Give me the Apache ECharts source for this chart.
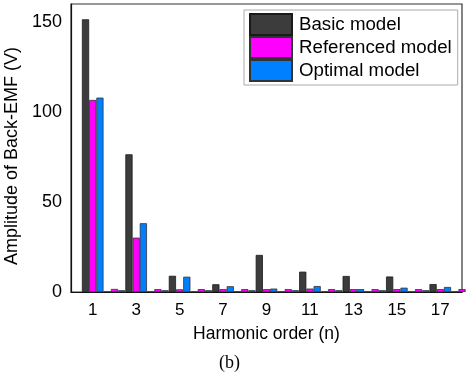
<!DOCTYPE html>
<html>
<head>
<meta charset="utf-8">
<script src="https://cdn.jsdelivr.net/npm/echarts@6/dist/echarts.min.js"></script>
<style>html,body{margin:0;padding:0;background:#fff}#c{width:466px;height:372px}</style>
</head>
<body>
<div id="c"></div>
<script>
// Harmonic orders (axis runs from 0 to 18; 0 has no bars)
const harmonics = ['0','1','2','3','4','5','6','7','8','9','10','11','12','13','14','15','16','17','18'];
const basicModel      = ['-', 151.5, 0, 76.5, 0, 9.0, 0, 4.3, 0, 20.6, 0, 11.3, 0, 8.9, 0, 8.6, 0, 4.4, 0];
const referencedModel = ['-', 106.7, 1.7, 30.2, 1.6, 1.5, 1.6, 1.6, 1.6, 1.6, 1.6, 1.9, 1.6, 1.6, 1.6, 1.6, 1.6, 1.6, 1.6];
const optimalModel    = ['-', 108.0, 1.0, 38.2, 1.0, 8.5, 1.0, 3.2, 1.0, 1.9, 1.0, 3.3, 1.0, 1.6, 1.0, 2.4, 1.0, 2.8, 1.0];
const yTicks = [0, 50, 100, 150];

const chart = echarts.init(document.getElementById('c'), null, {renderer: 'canvas'});
const fontFam = '"Liberation Sans", Arial, sans-serif';
const barCommon = {type: 'bar', barWidth: 7.2, barGap: '0%', clip: true};
chart.setOption({
  animation: false,
  backgroundColor: '#fff',
  title: {
    text: '(b)', left: 214, top: 349,
    textStyle: {fontFamily: '"Liberation Serif", "Times New Roman", serif', fontSize: 18, fontWeight: 'normal', color: '#000'}
  },
  legend: {
    left: 244, top: 10, orient: 'vertical',
    itemWidth: 42, itemHeight: 21, itemGap: 0,
    padding: [3, 6, 3, 5],
    borderColor: '#aaa', borderWidth: 1,
    icon: 'rect',
    textStyle: {fontFamily: fontFam, fontSize: 18.7, lineHeight: 21, color: '#000', padding: [0, 0, 0, 2]},
    data: ['Basic model', 'Referenced model', 'Optimal model']
  },
  grid: {left: 71, right: 4, top: 4, bottom: 80, show: true, borderColor: '#333', borderWidth: 1.2,
    backgroundColor: 'transparent', containLabel: false, outerBoundsMode: 'none'},
  xAxis: {
    type: 'category', data: harmonics, boundaryGap: false,
    name: 'Harmonic order (n)', nameLocation: 'middle', nameGap: 33,
    nameTextStyle: {fontFamily: fontFam, fontSize: 17.5, color: '#000'},
    axisLine: {lineStyle: {color: '#111', width: 1.2}},
    axisTick: {show: false},
    axisLabel: {interval: (i) => i % 2 === 1, fontFamily: fontFam, fontSize: 17, color: '#000', margin: 10},
    splitLine: {show: false}
  },
  yAxis: {
    type: 'value', min: 0, max: 160, interval: 50,
    name: 'Amplitude of Back-EMF (V)', nameLocation: 'middle', nameGap: 38,
    nameTextStyle: {fontFamily: fontFam, fontSize: 18, color: '#000', padding: [0, 16, 0, 0]},
    axisLine: {show: true, lineStyle: {color: '#111', width: 1.2}},
    axisTick: {show: false},
    axisLabel: {fontFamily: fontFam, fontSize: 18, color: '#000', margin: 9, showMaxLabel: false,
      formatter: (v) => yTicks.includes(v) ? String(v) : ''},
    splitLine: {show: false}
  },
  series: [
    Object.assign({name: 'Basic model', data: basicModel,
      itemStyle: {color: '#3c3c3c', borderColor: '#1a1a1a', borderWidth: 0.8}}, barCommon),
    Object.assign({name: 'Referenced model', data: referencedModel,
      itemStyle: {color: '#ff00ff', borderColor: '#333', borderWidth: 0.8}}, barCommon),
    Object.assign({name: 'Optimal model', data: optimalModel,
      itemStyle: {color: '#0080ff', borderColor: '#333', borderWidth: 0.8}}, barCommon)
  ]
});
</script>
</body>
</html>
